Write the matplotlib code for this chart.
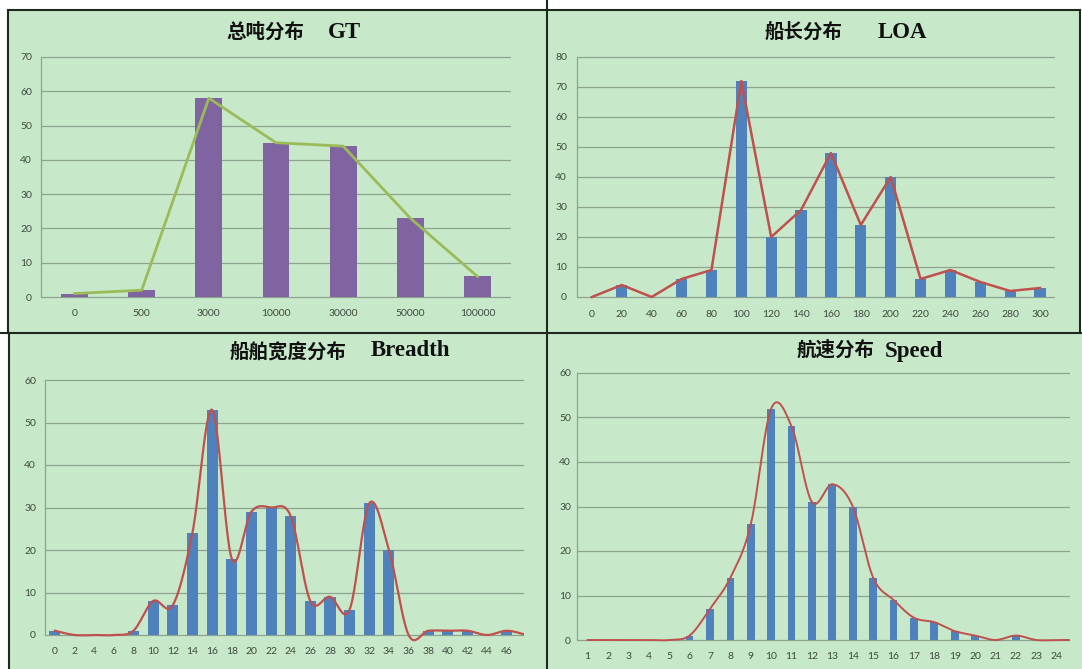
import numpy as np
import matplotlib
matplotlib.use('Agg')
import matplotlib.pyplot as plt
from matplotlib.lines import Line2D
from matplotlib.patches import Rectangle

# 总吨 GT
gt_labels = ['0', '500', '3000', '10000', '30000', '50000', '100000']
gt_counts = [1, 2, 58, 45, 44, 23, 6]

# 船长 LOA
loa_labels = ['0', '20', '40', '60', '80', '100', '120', '140', '160', '180',
              '200', '220', '240', '260', '280', '300']
loa_counts = [0, 4, 0, 6, 9, 72, 20, 29, 48, 24, 40, 6, 9, 5, 2, 3]

# 船舶宽度 Breadth
breadth_labels = ['0', '2', '4', '6', '8', '10', '12', '14', '16', '18', '20',
                  '22', '24', '26', '28', '30', '32', '34', '36', '38', '40',
                  '42', '44', '46', '48']
breadth_counts = [1, 0, 0, 0, 1, 8, 7, 24, 53, 18, 29, 30, 28, 8, 9, 6, 31, 20,
                  0, 1, 1, 1, 0, 1, 0]

# 航速 Speed
speed_labels = ['1', '2', '3', '4', '5', '6', '7', '8', '9', '10', '11', '12',
                '13', '14', '15', '16', '17', '18', '19', '20', '21', '22',
                '23', '24', '25']
speed_counts = [0, 0, 0, 0, 0, 1, 7, 14, 26, 52, 48, 31, 35, 30, 14, 9, 5, 4,
                2, 1, 0, 1, 0, 0, 0]

W, H = 1082, 669
GREEN = '#c7e9ca'
GRID = '#8ea38e'
BORDER = '#1e2a1e'
TICK = '#3e4a3e'
BLUE = '#4f81bd'
RED = '#c0504d'

fig = plt.figure(figsize=(W / 100, H / 100), dpi=100)
fig.patch.set_facecolor('white')


def box(x0, y0, x1, y1):
    return [x0 / W, 1 - y1 / H, (x1 - x0) / W, (y1 - y0) / H]


def smooth(xs, ys, steps=24):
    # excel-style smoothed line: cubic bezier segments through every point
    pts = np.column_stack([xs, ys]).astype(float)
    n = len(pts)
    t = np.linspace(0, 1, steps)[1:, None]
    out = [pts[0]]
    for i in range(n - 1):
        p0 = pts[max(i - 1, 0)]
        p1, p2 = pts[i], pts[i + 1]
        p3 = pts[min(i + 2, n - 1)]
        c1 = p1 + (p2 - p0) / 6
        c2 = p2 - (p3 - p1) / 6
        seg = ((1 - t) ** 3) * p1 + 3 * ((1 - t) ** 2) * t * c1 \
            + 3 * (1 - t) * t ** 2 * c2 + t ** 3 * p2
        out.extend(seg)
    out = np.array(out)
    return out[:, 0], out[:, 1]


def chart(xl, xr, ytop, yzero, ymax, labels, counts, xlim, bar_w, bar_c,
          line_c, line_w, curved, lab_y, ypad):
    s = (yzero - ytop) / ymax
    top = ytop - 0.5 * s
    bottom = yzero + 2 * s
    ax = fig.add_axes(box(xl, top, xr, bottom))
    ax.set_facecolor('none')
    x = np.arange(len(counts))
    ax.bar(x, counts, bar_w, color=bar_c, zorder=2)
    if curved:
        lx, ly = smooth(x, counts)
    else:
        lx, ly = x, counts
    ax.plot(lx, ly, color=line_c, lw=line_w, zorder=3, solid_joinstyle='round')
    ax.set_xticks(x)
    ax.set_xticklabels(labels)
    ax.set_yticks(range(0, ymax + 1, 10))
    ax.set_xlim(*xlim)
    ax.set_ylim(-2, ymax + 0.5)
    ax.grid(axis='y', color=GRID, lw=0.9)
    ax.set_axisbelow(True)
    for side in ['top', 'right', 'bottom']:
        ax.spines[side].set_visible(False)
    ax.spines['left'].set_color(GRID)
    ax.spines['left'].set_linewidth(0.9)
    ax.spines['left'].set_bounds(0, ymax)
    xpad = (lab_y - 5 - bottom) * 0.72
    ax.tick_params(axis='x', length=0, pad=xpad, labelsize=7.5,
                   labelcolor=TICK)
    ax.tick_params(axis='y', length=0, pad=ypad * 0.72, labelsize=7.5,
                   labelcolor=TICK)
    for lab in ax.get_xticklabels() + ax.get_yticklabels():
        lab.set_family('Lato')
    return ax


def title(cx, cy, cjk, lx, ly, latin):
    fig.text(cx / W, 1 - cy / H, cjk, ha='left', va='center', fontsize=14,
             fontweight='bold', family='Noto Sans CJK SC', color='#111111')
    fig.text(lx / W, 1 - ly / H, latin, ha='left', va='center', fontsize=16.5,
             fontweight='bold', family='Liberation Serif', color='#111111')


# panel backgrounds
for x0, y0, x1, y1 in [(8, 10, 547, 333), (547, 10, 1080, 333),
                       (9, 333, 547, 669), (547, 333, 1082, 669)]:
    fig.add_artist(Rectangle((x0 / W, 1 - y1 / H), (x1 - x0) / W,
                             (y1 - y0) / H, transform=fig.transFigure,
                             facecolor=GREEN, edgecolor='none', zorder=-2))

chart(41, 511, 57, 297, 70, gt_labels, gt_counts, (-0.5, 6.5), 0.4,
      '#8064a2', '#9bbb59', 2.0, False, 314, 9)
chart(577, 1055, 57, 297, 80, loa_labels, loa_counts, (-0.5, 15.5), 0.38,
      BLUE, RED, 1.8, False, 315, 10)
chart(45, 524, 380, 635, 60, breadth_labels, breadth_counts, (-0.5, 23.87),
      0.56, BLUE, RED, 1.6, True, 652, 9)
chart(577, 1070, 373, 640, 60, speed_labels, speed_counts, (-0.52, 23.65),
      0.38, BLUE, RED, 1.4, True, 657, 6)

title(226, 32, '总吨分布', 328, 33, 'GT')
title(765, 32, '船长分布', 878, 33, 'LOA')
title(230, 352, '船舶宽度分布', 371, 351, 'Breadth')
title(797, 350, '航速分布', 885, 352, 'Speed')

# frame lines between the four charts
for (x0, y0), (x1, y1) in [((547, 0), (547, 669)), ((0, 333), (1082, 333)),
                           ((8, 10), (8, 333)), ((8, 10), (1080, 10)),
                           ((9, 333), (9, 669)), ((1080, 10), (1080, 333))]:
    fig.add_artist(Line2D([x0 / W, x1 / W], [1 - y0 / H, 1 - y1 / H],
                          transform=fig.transFigure, color=BORDER, lw=1.5,
                          zorder=5))

fig.savefig('out.png', dpi=100)
